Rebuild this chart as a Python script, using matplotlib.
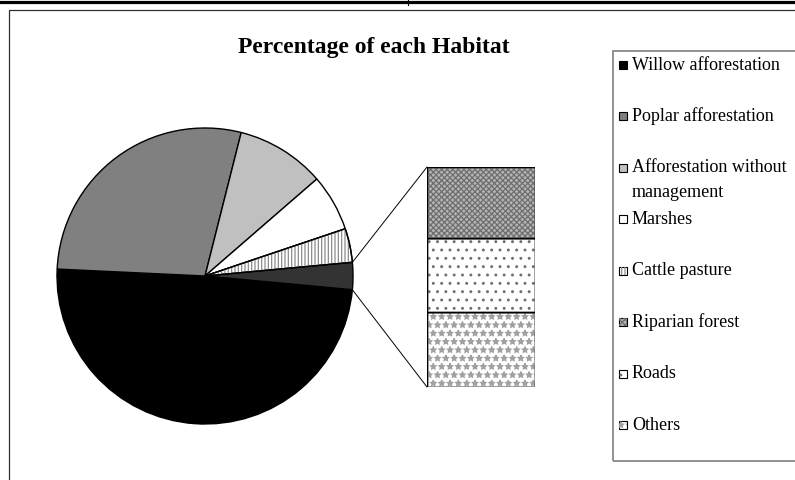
import numpy as np
import matplotlib
matplotlib.use("Agg")
import matplotlib.pyplot as plt
from matplotlib.patches import Rectangle, Wedge, ConnectionPatch
from matplotlib.lines import Line2D

plt.rcParams['font.family'] = ['Liberation Serif', 'DejaVu Serif']
plt.rcParams['hatch.linewidth'] = 0.9

# ---- data -------------------------------------------------------------
title = "Percentage of each Habitat"

pie_labels = ["Willow afforestation", "Poplar afforestation",
              "Afforestation without\nmanagement", "Marshes", "Cattle pasture"]
pie_values = [49.3, 28.2, 9.7, 6.2, 3.7]

bar_labels = ["Riparian forest", "Roads", "Others"]
bar_values = [0.95, 1.0, 1.0]

# ---- styles -----------------------------------------------------------
pie_faces = ["#000000", "#808080", "#C0C0C0", "#FFFFFF", "#FFFFFF"]
pie_hatch = [None, None, None, None, "|||||"]
other_face = "#333333"

bar_faces = ["#B4B4B4", "#FFFFFF", "#FFFFFF"]
bar_hatch = ["xxxxxx", "..", "**"]
bar_hatch_col = ["#6E6E6E", "#6E6E6E", "#A0A0A0"]

W, H = 795, 480
fig = plt.figure(figsize=(W / 100, H / 100), dpi=100)


def fx(x):
    return x / W


def fy(y):
    return 1 - y / H


# spreadsheet border above the chart and chart-area frame
fig.add_artist(Line2D([0, 1], [fy(1.5), fy(1.5)], color="black", lw=2.3))
fig.add_artist(Line2D([fx(408), fx(408)], [fy(0), fy(5)], color="black", lw=0.8))
fig.add_artist(Rectangle((fx(9), fy(600)), fx(900), 590 / H, fill=False,
                         edgecolor="#303030", lw=0.9))

fig.text(fx(373.5), fy(47), title, ha="center", va="center",
         fontsize=17, fontweight="bold")

# ---- pie --------------------------------------------------------------
other_total = sum(bar_values)
values = pie_values + [other_total]
faces = pie_faces + [other_face]
total = sum(values)
start = -360 * (other_total / total) / 2

cx, cy, r = 205, 276, 148
ax_pie = fig.add_axes([fx(cx - r), fy(cy + r), 2 * r / W, 2 * r / H])
wedges, _ = ax_pie.pie(values, colors=faces, startangle=start,
                       counterclock=False, radius=1,
                       wedgeprops=dict(edgecolor="black", linewidth=1.0))
for w, h in zip(wedges, pie_hatch + [None]):
    if h:
        ax_pie.add_patch(Wedge(w.center, w.r, w.theta1, w.theta2,
                               facecolor="none", edgecolor="#8C8C8C",
                               hatch=h, lw=0))
        ax_pie.add_patch(Wedge(w.center, w.r, w.theta1, w.theta2,
                               facecolor="none", edgecolor="black", lw=1.0))
ax_pie.set_xlim(-1, 1)
ax_pie.set_ylim(-1, 1)
ax_pie.set_aspect("equal")
ax_pie.axis("off")

# ---- stacked bar for the small categories -----------------------------
bx0, bx1, by0, by1 = 427, 535, 167, 387
ax_bar = fig.add_axes([fx(bx0), fy(by1), (bx1 - bx0) / W, (by1 - by0) / H])
bottom = 0
for val, fc, hh, hc in reversed(list(zip(bar_values, bar_faces, bar_hatch, bar_hatch_col))):
    ax_bar.bar(0, val, width=1, bottom=bottom, color=fc, edgecolor="black", lw=1.0)
    ax_bar.bar(0, val, width=1, bottom=bottom, color="none",
               edgecolor=hc, lw=0, hatch=hh)
    ax_bar.bar(0, val, width=1, bottom=bottom, color="none",
               edgecolor="black", lw=1.0)
    bottom += val
ax_bar.set_xlim(-0.5, 0.5)
ax_bar.set_ylim(0, other_total)
ax_bar.axis("off")

# connector lines from the aggregated slice to the bar
ow = wedges[-1]
t1, t2 = np.deg2rad(ow.theta1), np.deg2rad(ow.theta2)
for th, ybar in ((max(t1, t2), other_total), (min(t1, t2), 0)):
    con = ConnectionPatch(xyA=(np.cos(th), np.sin(th)), coordsA=ax_pie.transData,
                          xyB=(-0.5, ybar), coordsB=ax_bar.transData,
                          color="black", lw=0.7)
    fig.add_artist(con)

# ---- legend -----------------------------------------------------------
fig.add_artist(Rectangle((fx(613), fy(461)), fx(400), 410 / H, fill=False,
                         edgecolor="#808080", lw=1.2))
entries = list(zip(pie_labels, pie_faces, pie_hatch, ["#8C8C8C"] * 5)) + \
    list(zip(bar_labels, bar_faces, bar_hatch, bar_hatch_col))
slot0, step = 65, 51.45
mk = 8
for i, (lab, fc, hh, hc) in enumerate(entries):
    yc = slot0 + step * i
    fig.add_artist(Rectangle((fx(619), fy(yc + mk / 2)), mk / W, mk / H,
                             facecolor=fc, edgecolor="black", lw=0.8))
    if hh:
        fig.add_artist(Rectangle((fx(619), fy(yc + mk / 2)), mk / W, mk / H,
                                 facecolor="none", edgecolor=hc,
                                 lw=0, hatch=hh))
    for k, line in enumerate(lab.split("\n")):
        fig.text(fx(632), fy(yc + 25 * k), line, ha="left", va="center",
                 fontsize=13)

fig.savefig("out.png", dpi=100)
